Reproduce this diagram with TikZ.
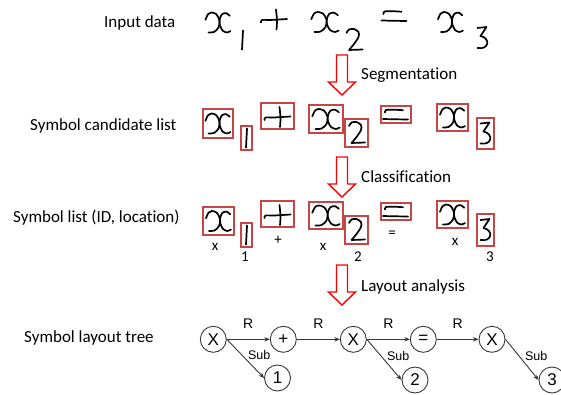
\documentclass[tikz,border=0pt]{standalone}
\usepackage{fontspec}
\setmainfont[Ligatures={NoCommon}]{Carlito}
\newfontfamily\arialfont{Liberation Sans}
\usetikzlibrary{arrows.meta}
\definecolor{boxred}{RGB}{196,70,70}
\definecolor{treegray}{RGB}{55,55,55}

\tikzset{
  ink/.style={line width=1.7pt, line cap=round, line join=round, black},
  cand/.style={draw=boxred, line width=1.2pt},
  bigarrow/.style={draw=red, line width=1.4pt, fill=white, line join=miter},
  steplabel/.style={font=\fontsize{17}{20}\selectfont, anchor=west, inner sep=0pt},
  idlabel/.style={font=\fontsize{15}{18}\selectfont, inner sep=0pt},
  tnode/.style={circle, draw=treegray, line width=0.9pt, minimum size=26pt,
    inner sep=0pt, font=\arialfont\fontsize{17}{20}\selectfont},
  tedge/.style={draw=treegray, line width=0.9pt, -{Stealth[length=5.5pt,width=4.5pt]}},
  rlab/.style={font=\arialfont\fontsize{14}{16}\selectfont, inner sep=0pt, yshift=16pt},
  sublab/.style={font=\arialfont\fontsize{12.5}{14}\selectfont, inner sep=0pt,
    anchor=west, pos=0.4, xshift=6pt},
  % handwritten strokes, drawn round their own centre
  hwx/.pic={
    \draw[ink] plot[smooth] coordinates {(-12.5,-2.7) (-10,-8.3) (-6.7,-10) (-1.7,-8.3) (1.5,-2) (0.5,5) (-4,9.5) (-9.5,10)};
    \draw[ink] plot[smooth] coordinates {(11.7,-6.7) (8.3,-9.3) (4,-8.3) (1.7,-3.3) (1.7,2) (4.5,8) (9,10) (12.5,8.5)};
  },
  hwplus/.pic={
    \draw[ink] plot[smooth] coordinates {(-13,4) (-12,1.5) (-4,1.5) (5,1) (13,0.5)};
    \draw[ink] plot[smooth] coordinates {(2,-9) (3,2) (2.5,11)};
  },
  hwone/.pic={
    \draw[ink] plot[smooth] coordinates {(0.5,-9.5) (0,0) (-0.5,9.5)};
  },
  hwtwo/.pic={
    \draw[ink] plot[smooth] coordinates {(-7.5,-7) (-5,-10.5) (0,-11) (4.5,-8) (4.5,-3) (0,4) (-5,10)} -- (8.5,9.5);
  },
  hweq/.pic={
    \draw[ink] plot[smooth] coordinates {(-11,-2) (-10,-4.5) (-2,-4.8) (7,-4.3)};
    \draw[ink] plot[smooth] coordinates {(-13,4.5) (0,4.8) (12,5)};
  },
  hwthree/.pic={
    \draw[ink] (-5,-10) -- (4,-11) -- (-2,-2) .. controls (8,0) and (7,12) .. (-5,10);
  },
  bigdown/.pic={
    \draw[bigarrow] (-5.5,0) -- (5.5,0) -- (5.5,27) -- (13.5,27) -- (0,40)
      -- (-13.5,27) -- (-5.5,27) -- cycle;
  },
}

\begin{document}
\begin{tikzpicture}[x=1pt, y=-1pt]
\useasboundingbox (0,0) rectangle (561,394);
\clip (0,0) rectangle (561,394);

% stage names
\node[steplabel] (lin)   at (104,23)  {Input data};
\node[steplabel] (lcand) at (30,126)  {Symbol candidate list};
\node[steplabel] (llist) at (13,218)  {Symbol list (ID, location)};
\node[steplabel] (ltree) at (24,338)  {Symbol layout tree};

% processing steps
\pic at (342,55)  {bigdown};
\pic at (342,157) {bigdown};
\pic at (342,265) {bigdown};
\node[steplabel] (sseg) at (361,75)  {Segmentation};
\node[steplabel] (scls) at (361,177) {Classification};
\node[steplabel] (slay) at (361,287) {Layout analysis};

% input strokes
\pic at (218,22.5) {hwx};
\pic at (242.5,40) {hwone};
\pic at (274,18.5) {hwplus};
\pic[xscale=1.1] at (325,22) {hwx};
\pic at (354,40) {hwtwo};
\pic at (394.5,16) {hweq};
\pic at (450.5,22) {hwx};
\pic at (482.5,38) {hwthree};

% symbol candidates
\draw[cand] (203,109) rectangle (233,138);
\draw[cand] (241,126) rectangle (252,150);
\draw[cand] (261,103) rectangle (294,129);
\draw[cand] (309,105) rectangle (343,133);
\draw[cand] (345,119) rectangle (368,147);
\draw[cand] (381,106) rectangle (411,123);
\draw[cand] (437,104) rectangle (468,131);
\draw[cand] (477,118) rectangle (494,149);
\pic at (218,123.5) {hwx};
\pic at (246.5,138) {hwone};
\pic at (277.5,116) {hwplus};
\pic[xscale=1.1] at (326,119) {hwx};
\pic at (356.5,133) {hwtwo};
\pic at (396,114.5) {hweq};
\pic at (452.5,117.5) {hwx};
\pic at (485.5,133.5) {hwthree};

% classified symbols
\draw[cand] (203,207) rectangle (234,235);
\draw[cand] (241,223) rectangle (252,247);
\draw[cand] (261,201) rectangle (294,227);
\draw[cand] (309,202) rectangle (343,229);
\draw[cand] (345,216) rectangle (368,244);
\draw[cand] (381,203) rectangle (411,220);
\draw[cand] (437,201) rectangle (468,228);
\draw[cand] (477,214) rectangle (494,246);
\pic at (218.5,221) {hwx};
\pic at (246.5,235) {hwone};
\pic at (277.5,214) {hwplus};
\pic[xscale=1.1] at (326,215.5) {hwx};
\pic at (356.5,230) {hwtwo};
\pic at (396,211.5) {hweq};
\pic at (452.5,214.5) {hwx};
\pic at (485.5,230) {hwthree};
\node[idlabel] (id1) at (215,246.5) {x};
\node[idlabel] (id2) at (245,256.5) {1};
\node[idlabel] (id3) at (278,240)   {+};
\node[idlabel] (id4) at (323,246.5) {x};
\node[idlabel] (id5) at (358,256.5) {2};
\node[idlabel] (id6) at (392,234)   {=};
\node[idlabel] (id7) at (455,241.5) {x};
\node[idlabel] (id8) at (490,256.5) {3};

% layout tree
\node[tnode] (tx1)    at (213.3,339.3) {X};
\node[tnode] (tplus)  at (283.3,339.3) {+};
\node[tnode] (tx2)    at (353.3,339.3) {X};
\node[tnode] (teq)    at (423.3,339.3) {=};
\node[tnode] (tx3)    at (492,339.3)   {X};
\node[tnode] (tone)   at (277.5,378)   {1};
\node[tnode] (ttwo)   at (415,380)     {2};
\node[tnode] (tthree) at (552,380)     {3};

\draw[tedge] (tx1.east)  -- node[rlab] (r1) {R} (tplus.west);
\draw[tedge] (tplus.east) -- node[rlab] (r2) {R} (tx2.west);
\draw[tedge] (tx2.east)  -- node[rlab] (r3) {R} (teq.west);
\draw[tedge] (teq.east)  -- node[rlab] (r4) {R} (tx3.west);
\draw[tedge] (tx1.east)  -- node[sublab] (s1) {Sub} (tone.west);
\draw[tedge] (tx2.east)  -- node[sublab] (s2) {Sub} (ttwo.west);
\draw[tedge] (tx3.east)  -- node[sublab] (s3) {Sub} (tthree.west);
\end{tikzpicture}
\end{document}
